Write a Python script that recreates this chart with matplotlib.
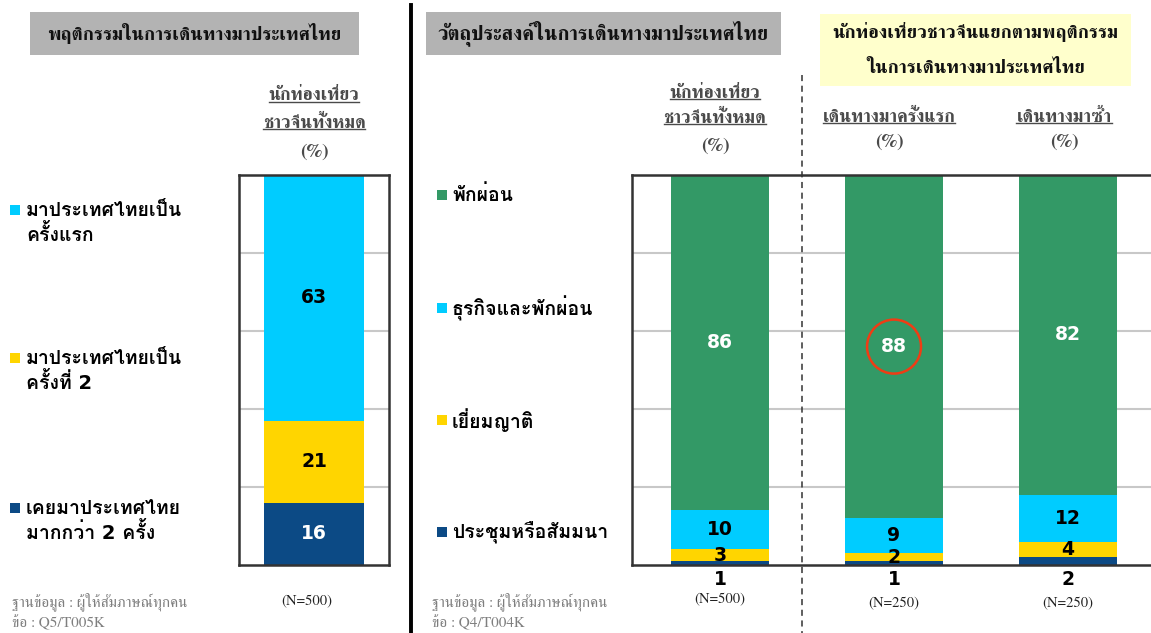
import matplotlib
matplotlib.use("Agg")
import matplotlib.pyplot as plt
from matplotlib.patches import Rectangle, Ellipse
from matplotlib.lines import Line2D

W, H = 1151, 633

# left chart: travel behaviour (stack bottom -> top)
behaviour_labels = ["เคยมาประเทศไทย\nมากกว่า 2 ครั้ง", "มาประเทศไทยเป็น\nครั้งที่ 2", "มาประเทศไทยเป็น\nครั้งแรก"]
behaviour_values = [16, 21, 63]
behaviour_colors = ["#0C4A85", "#FFD500", "#00CCFF"]

# right chart: purpose of trip (stack bottom -> top)
purpose_labels = ["ประชุมหรือสัมมนา", "เยี่ยมญาติ", "ธุรกิจและพักผ่อน", "พักผ่อน"]
purpose_colors = ["#0C4A85", "#FFD500", "#00CCFF", "#339966"]
meeting = [1, 1, 2]
visit_relatives = [3, 2, 4]
business_leisure = [10, 9, 12]
leisure = [86, 88, 82]
purpose_n = ["(N=500)", "(N=250)", "(N=250)"]

SERIF = ["FreeSerif", "Noto Serif Thai", "DejaVu Serif"]
SANS = ["DejaVu Sans", "Loma", "Noto Sans Thai Looped"]


def fx(px):
    return px / W


def fy(py):
    return 1 - py / H


fig = plt.figure(figsize=(W / 100, H / 100), dpi=100)


def header_box(x0, x1, y0, y1, color, lines, size=13.5):
    fig.add_artist(Rectangle((fx(x0), fy(y1)), fx(x1 - x0), (y1 - y0) / H,
                             transform=fig.transFigure, color=color, lw=0))
    n = len(lines)
    step = (y1 - y0) / n
    for i, t in enumerate(lines):
        fig.text(fx((x0 + x1) / 2), fy(y0 + step * (i + 0.5)), t, ha="center", va="center",
                 fontsize=size, family=SERIF, weight="bold", color="#111111")


underlined = []


def col_header(xc, y, text, underline=True, size=13):
    t = fig.text(fx(xc), fy(y), text, ha="center", va="center", fontsize=size,
                 family=SERIF, weight="bold", color="#4A4A4A")
    if underline:
        underlined.append(t)
    return t


header_box(30, 359, 12, 55, "#B3B3B3", ["พฤติกรรมในการเดินทางมาประเทศไทย"])
header_box(426, 781, 12, 55, "#B3B3B3", ["วัตถุประสงค์ในการเดินทางมาประเทศไทย"], size=14.5)
header_box(820, 1131, 14, 86, "#FFFFCC", ["นักท่องเที่ยวชาวจีนแยกตามพฤติกรรม", "ในการเดินทางมาประเทศไทย"])

col_header(314, 96, "นักท่องเที่ยว")
col_header(314, 123, "ชาวจีนทั้งหมด")
col_header(314, 152, "(%)", underline=False, size=14)
col_header(715, 93, "นักท่องเที่ยว")
col_header(715, 118, "ชาวจีนทั้งหมด")
col_header(715, 146, "(%)", underline=False, size=14)
col_header(889, 117, "เดินทางมาครั้งแรก")
col_header(889, 142, "(%)", underline=False, size=14)
col_header(1064, 117, "เดินทางมาซ้ำ")
col_header(1064, 142, "(%)", underline=False, size=14)


def style_axes(ax):
    ax.set_ylim(0, 100)
    ax.set_yticks([20, 40, 60, 80])
    ax.set_xticks([])
    ax.tick_params(axis="y", length=0, labelleft=False)
    ax.yaxis.grid(True, color="#C8C8C8", lw=1.5)
    ax.set_axisbelow(True)
    for s in ax.spines.values():
        s.set_color("#333333")
        s.set_linewidth(1.8)


def label_color(c):
    return "white" if c in ("#0C4A85", "#339966") else "black"


# ---- left chart
axl = fig.add_axes([fx(239), fy(565), fx(389 - 239), (565 - 175) / H])
style_axes(axl)
axl.set_xlim(-0.5, 0.5)
bottom = 0
for v, c in zip(behaviour_values, behaviour_colors):
    axl.bar(0, v, bottom=bottom, width=0.673, color=c, zorder=2)
    axl.text(0, bottom + v / 2, str(v), ha="center", va="center", fontsize=13.5,
             weight="bold", family=SANS, color=label_color(c), zorder=3)
    bottom += v
axl.text(-0.05, -9.5, "(N=500)", ha="center", va="center", fontsize=10.5,
         family=SERIF, color="#222222", clip_on=False)

legend_y = [514, 364, 216]
for lab, c, y in zip(behaviour_labels, behaviour_colors, legend_y):
    fig.add_artist(Rectangle((fx(10), fy(y - 1)), fx(10), 10 / H, transform=fig.transFigure,
                             color=c, lw=0))
    fig.text(fx(26), fy(y + 7), lab, ha="left", va="center", fontsize=14, weight="bold",
             family=SANS, color="black", linespacing=1.2)

# ---- right chart
axr = fig.add_axes([fx(632), fy(565), fx(W - 632), (565 - 175) / H])
style_axes(axr)
axr.spines["right"].set_visible(False)
axr.set_xlim(-0.506, 2.477)
xs = range(len(leisure))
series = [meeting, visit_relatives, business_leisure, leisure]
bottoms = [0] * len(leisure)
for vals, c in zip(series, purpose_colors):
    axr.bar(xs, vals, bottom=bottoms, width=0.563, color=c, zorder=2)
    for x, v, b in zip(xs, vals, bottoms):
        if c == "#0C4A85":
            axr.text(x, -3.8, str(v), ha="center", va="center", fontsize=13.5, weight="bold",
                     family=SANS, color="black", clip_on=False)
        else:
            axr.text(x, b + v / 2, str(v), ha="center", va="center", fontsize=13.5,
                     weight="bold", family=SANS, color=label_color(c), zorder=3)
    bottoms = [b + v for b, v in zip(bottoms, vals)]

for x, n, dy in zip(xs, purpose_n, [-9.0, -9.8, -9.8]):
    axr.text(x, dy, n, ha="center", va="center", fontsize=10.5, family=SERIF,
             color="#222222", clip_on=False)

# highlight on the first-visit leisure value
axr.add_patch(Ellipse((1, meeting[1] + visit_relatives[1] + business_leisure[1] + leisure[1] / 2),
                      54 / 174, 54 / 3.9, fill=False, ec="#F03C14", lw=1.8, zorder=4))

legend_y2 = [532, 420, 308, 195]
for lab, c, y in zip(purpose_labels, purpose_colors, legend_y2):
    fig.add_artist(Rectangle((fx(437), fy(y + 5)), fx(10), 10 / H, transform=fig.transFigure,
                             color=c, lw=0))
    fig.text(fx(452), fy(y), lab, ha="left", va="center", fontsize=14, weight="bold",
             family=SANS, color="black")

# footers
for x0, q in [(12, "ข้อ : Q5/T005K"), (432, "ข้อ : Q4/T004K")]:
    fig.text(fx(x0), fy(602), "ฐานข้อมูล : ผู้ให้สัมภาษณ์ทุกคน", ha="left", va="center",
             fontsize=11, family=SERIF, color="#7F7F7F")
    fig.text(fx(x0), fy(623), q, ha="left", va="center", fontsize=11, family=SERIF,
             color="#7F7F7F")

# separators
fig.add_artist(Line2D([fx(411), fx(411)], [fy(5), fy(H)], color="black", lw=2.8,
                      transform=fig.transFigure))
fig.add_artist(Line2D([fx(802), fx(802)], [fy(75), fy(H)], color="#333333", lw=1.1,
                      ls=(0, (4, 3)), transform=fig.transFigure, zorder=5))

# underline the column headers
fig.canvas.draw()
r = fig.canvas.get_renderer()
for t in underlined:
    bb = t.get_window_extent(r)
    yb = bb.y0 + 3
    fig.add_artist(Line2D([bb.x0 / W, bb.x1 / W], [yb / H, yb / H], color="#4A4A4A", lw=1.0,
                          transform=fig.transFigure))

fig.savefig("out.png", dpi=100)
